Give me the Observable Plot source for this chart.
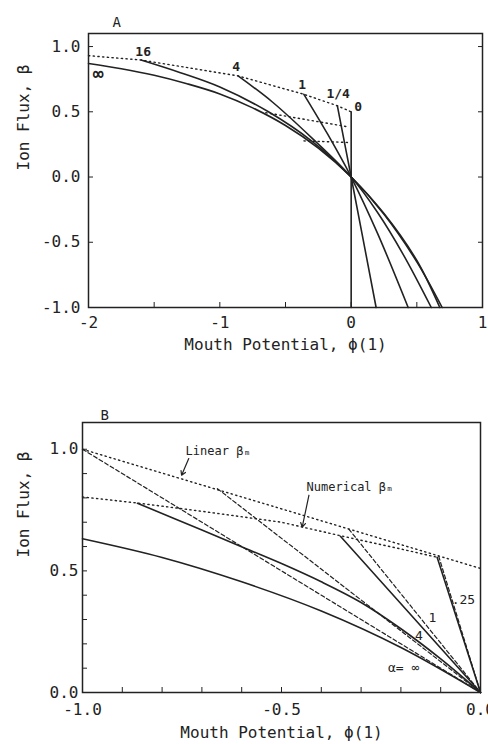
<!DOCTYPE html>
<html><head><meta charset="utf-8">
<script src="https://cdn.jsdelivr.net/npm/d3@7"></script>
<script src="https://cdn.jsdelivr.net/npm/@observablehq/plot@0.6"></script>
<style>
body{margin:0;background:#fff;}
#chart{width:488px;}
#chart svg{display:block;}
</style></head><body><div id="chart"></div>
<script>
// ---------- Panel A data (phi, beta) ----------
const aInf = [[-2,0.87],[-1.75,0.83],[-1.5,0.78],[-1.25,0.715],[-1,0.637],[-0.75,0.53],[-0.5,0.395],[-0.25,0.222],[0,0],[0.25,-0.285],[0.5,-0.65],[0.693,-1]];
const a16 = [[-1.6,0.897],[-1.3,0.80],[-1,0.69],[-0.63,0.50],[-0.3,0.275],[0,0],[0.25,-0.28],[0.5,-0.64],[0.675,-1]];
const a4 = [[-0.861,0.775],[-0.6,0.575],[-0.3,0.30],[0,0],[0.2,-0.27],[0.4,-0.6],[0.61,-1]];
const a1 = [[-0.36,0.634],[-0.18,0.33],[0,0],[0.2,-0.43],[0.434,-1]];
const aQuarter = [[-0.105,0.546],[0,0],[0.19,-1]];
const a0 = [[0,0.5],[0,-1]];
const aDotMain = [[-2,0.93],[-1.6,0.897],[-0.861,0.775],[-0.36,0.634],[-0.105,0.546],[0,0.5]];
const aDot2 = [[-0.65,0.493],[-0.025,0.385]];
const aDot3 = [[-0.36,0.277],[-0.025,0.265]];
const aLabels = [["16",-1.584,0.958],["4",-0.876,0.843],["1",-0.373,0.705],["1/4",-0.099,0.636],["0",0.053,0.536]];
const aInfLabel = [["\u221E",-1.927,0.789]];
const aXTicks = [-2,-1,0,1];
const aXMinor = [-2,-1.5,-1,-0.5,0,0.5,1];
const aYTicks = [-1,-0.5,0,0.5,1];

// ---------- Panel B data ----------
const bInf = [[-1,0.632],[-0.8,0.555],[-0.6,0.455],[-0.4,0.335],[-0.2,0.185],[0,0]];
const b4 = [[-0.862,0.778],[-0.7,0.668],[-0.59,0.592],[-0.5,0.53],[-0.4,0.455],[-0.3,0.37],[-0.2,0.262],[-0.1,0.138],[0,0]];
const b1 = [[-0.352,0.642],[0,0]];
const bQuarter = [[-0.109,0.556],[0,0]];
const bDashInf = [[-1,1],[0,0]];
const bDash4 = [[-0.661,0.838],[0,0]];
const bDash1 = [[-0.331,0.672],[0,0]];
const bDashQuarter = [[-0.105,0.56],[0,0]];
const bLinear = [[-1,1],[0,0.51]];
const bNumerical = [[-1,0.804],[-0.862,0.779],[-0.7,0.745],[-0.5,0.70],[-0.356,0.646],[-0.2,0.59],[-0.109,0.556]];
const bLabels = [[".25",-0.043,0.379],["1",-0.121,0.305],["4",-0.155,0.235],["\u03B1= \u221E",-0.193,0.103]];
const bNotes = [["Linear \u03B2\u2098",-0.741,0.992],["Numerical \u03B2\u2098",-0.437,0.844]];
const bArrows = [[-0.733,0.962,-0.751,0.893],[-0.431,0.811,-0.448,0.680]];
const bXTicks = [-1,-0.5,0];
const bYTicks = [0,0.5,1];
const bMinor = [0,0.1,0.2,0.3,0.4,0.5,0.6,0.7,0.8,0.9,1.0];
const bXMinor = [-1,-0.9,-0.8,-0.7,-0.6,-0.5,-0.4,-0.3,-0.2,-0.1,0];

const ink = "#222";
const FONT = "DejaVu Sans Mono";
const rows = (obj) => Object.entries(obj).flatMap(([s,pts]) => pts.map(([x,y]) => ({s,x,y})));
const hy = (s) => s.replace("\u2212","-");
const f1 = (d) => hy(d3.format(".1f")(d));
const f0 = (d) => hy(d3.format("d")(d));
const blank = () => "";

const style = {fontFamily: FONT, fontSize: "16px", background: "white", color: ink, overflow: "visible"};

const plotA = Plot.plot({
  width: 488, height: 365, marginTop: 33, marginBottom: 58, marginLeft: 88, marginRight: 6,
  x: {domain: [-2, 1]}, y: {domain: [-1, 1.1]},
  style,
  marks: [
    Plot.axisX({ticks: aXTicks, tickSize: 0, tickPadding: 9, tickFormat: f0, label: null, fontSize: 16}),
    Plot.axisX({ticks: aXMinor, tickSize: -5, tickFormat: blank, label: null}),
    Plot.axisY({ticks: aYTicks, tickSize: 0, tickPadding: 8, tickFormat: f1, label: null, fontSize: 16}),
    Plot.axisY({ticks: aYTicks, tickSize: -5, tickFormat: blank, label: null}),
    Plot.axisY({anchor: "right", ticks: aYTicks, tickSize: -5, tickFormat: blank, label: null}),
    Plot.line(rows({m: aDotMain, d2: aDot2, d3: aDot3}), {x: "x", y: "y", z: "s", stroke: ink, strokeWidth: 1.4, strokeDasharray: "1.3,3.4"}),
    Plot.line(rows({inf: aInf, s16: a16, s4: a4, s1: a1, q: aQuarter, z0: a0}), {x: "x", y: "y", z: "s", stroke: ink, strokeWidth: 1.6, curve: "catmull-rom"}),
    Plot.text(aLabels, {x: d => d[1], y: d => d[2], text: d => d[0], fontSize: 13, fontWeight: "bold", fill: ink}),
    Plot.text(aInfLabel, {x: d => d[1], y: d => d[2], text: d => d[0], fontSize: 18, fontWeight: "bold", fill: ink}),
    Plot.frame({stroke: ink, strokeWidth: 1.5}),
    Plot.text(["A"], {frameAnchor: "top-left", dx: 24, dy: -16, fontSize: 14, fill: ink}),
    Plot.text(["Mouth Potential, \u03D5(1)"], {frameAnchor: "bottom", dy: 42, fontSize: 16, fill: ink}),
    Plot.text(["Ion Flux, \u03B2"], {frameAnchor: "left", dx: -65, rotate: -90, fontSize: 16, fill: ink})
  ]
});

const plotB = Plot.plot({
  width: 488, height: 379, marginTop: 57, marginBottom: 52, marginLeft: 82, marginRight: 8,
  x: {domain: [-1, 0]}, y: {domain: [0, 1.11]},
  style,
  marks: [
    Plot.axisX({ticks: bXTicks, tickSize: 0, tickPadding: 11, tickFormat: f1, label: null, fontSize: 16}),
    Plot.axisX({ticks: bXMinor, tickSize: -5, tickFormat: blank, label: null}),
    Plot.axisY({ticks: bYTicks, tickSize: 0, tickPadding: 4, tickFormat: f1, label: null, fontSize: 16}),
    Plot.axisY({ticks: bMinor, tickSize: -5, tickFormat: blank, label: null}),
    Plot.line(rows({lin: bLinear, num: bNumerical}), {x: "x", y: "y", z: "s", stroke: ink, strokeWidth: 1.4, strokeDasharray: "1.3,3.4"}),
    Plot.line(rows({di: bDashInf, d4: bDash4, d1: bDash1, dq: bDashQuarter}), {x: "x", y: "y", z: "s", stroke: ink, strokeWidth: 1.2, strokeDasharray: "4,2.5"}),
    Plot.line(rows({inf: bInf, s4: b4, s1: b1, q: bQuarter}), {x: "x", y: "y", z: "s", stroke: ink, strokeWidth: 1.6, curve: "catmull-rom"}),
    Plot.arrow(bArrows, {x1: d => d[0], y1: d => d[1], x2: d => d[2], y2: d => d[3], stroke: ink, strokeWidth: 1.2, headLength: 6}),
    Plot.text(bNotes, {x: d => d[1], y: d => d[2], text: d => d[0], textAnchor: "start", fontSize: 12, fill: ink}),
    Plot.text(bLabels, {x: d => d[1], y: d => d[2], text: d => d[0], fontSize: 13, fill: ink}),
    Plot.frame({stroke: ink, strokeWidth: 1.5}),
    Plot.text(["B"], {frameAnchor: "top-left", dx: 18, dy: -12, fontSize: 14, fill: ink}),
    Plot.text(["Mouth Potential, \u03D5(1)"], {frameAnchor: "bottom", dy: 45, fontSize: 16, fill: ink}),
    Plot.text(["Ion Flux, \u03B2"], {frameAnchor: "left", dx: -59, rotate: -90, fontSize: 16, fill: ink})
  ]
});

document.getElementById("chart").append(plotA, plotB);
</script></body></html>
